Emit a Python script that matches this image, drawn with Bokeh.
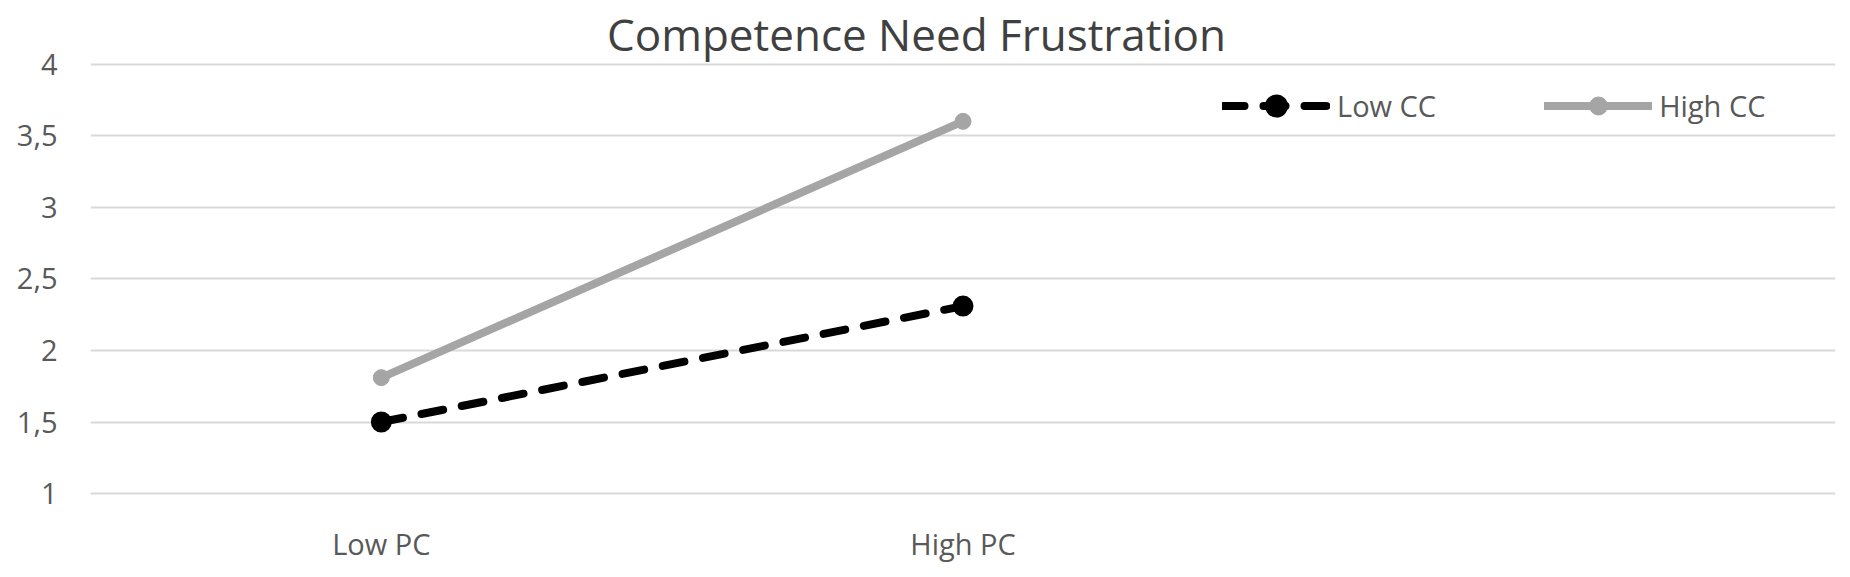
from bokeh.plotting import figure
from bokeh.models import FactorRange, Range1d, FixedTicker, Legend, LegendItem, Label
from bokeh.embed import file_html
from bokeh.resources import INLINE

title_text = "Competence Need Frustration"
categories = ["Low PC", "High PC", " "]
series_names = ["Low CC", "High CC"]
low_cc = [1.5, 2.31]
high_cc = [1.81, 3.6]
y_ticks = [1, 1.5, 2, 2.5, 3, 3.5, 4]
y_tick_labels = ["1", "1,5", "2", "2,5", "3", "3,5", "4"]

FONT = "Open Sans"
TEXT_COLOR = "#595959"

# the frame reaches the top of the canvas; the empty band above 4 holds the title
p = figure(width=1846, height=573, title=None,
           x_range=FactorRange(*categories),
           y_range=Range1d(0.98, 4.444),
           output_backend="svg", toolbar_location=None,
           min_border_left=90, min_border_right=11,
           min_border_top=0, min_border_bottom=77)

p.outline_line_color = None
p.xgrid.visible = False
p.ygrid.ticker = FixedTicker(ticks=y_ticks)
p.ygrid.grid_line_color = "#d9d9d9"
p.ygrid.grid_line_width = 2

p.yaxis.ticker = FixedTicker(ticks=y_ticks)
p.yaxis.major_label_overrides = {t: l for t, l in zip(y_ticks, y_tick_labels)}
for ax in (p.xaxis[0], p.yaxis[0]):
    ax.axis_line_color = None
    ax.major_tick_line_color = None
    ax.minor_tick_line_color = None
    ax.major_tick_out = 0
    ax.minor_tick_out = 0
    ax.major_label_text_font = FONT
    ax.major_label_text_font_size = "29px"
    ax.major_label_text_color = TEXT_COLOR
p.yaxis.major_label_standoff = 33
p.xaxis.major_label_standoff = 27

# chart title
p.add_layout(Label(text=title_text, x=826, y=463, x_units="screen", y_units="screen",
                   text_align="center", text_baseline="alphabetic",
                   text_font=FONT, text_font_size="44px", text_color="#404040"))

xs = categories[:2]
r1 = p.line(xs, low_cc, line_color="black", line_width=8, line_dash="22 19", line_cap="round")
m1 = p.scatter(xs, low_cc, marker="circle", size=16,
               fill_color="black", line_color="black", line_width=5)
r2 = p.line(xs, high_cc, line_color="#a5a5a5", line_width=8, line_cap="round")
m2 = p.scatter(xs, high_cc, marker="circle", size=16, fill_color="#a5a5a5", line_color="#a5a5a5")

legend = Legend(items=[LegendItem(label=series_names[0], renderers=[r1, m1]),
                       LegendItem(label=series_names[1], renderers=[r2, m2])],
                orientation="horizontal", location=(1132, 368),
                glyph_width=108, glyph_height=45, label_standoff=7, spacing=108,
                padding=0, margin=0, border_line_color=None, background_fill_alpha=0,
                label_text_font=FONT, label_text_font_size="29px", label_text_color=TEXT_COLOR)
p.add_layout(legend)

open("out.html", "w").write(file_html(p, INLINE))
